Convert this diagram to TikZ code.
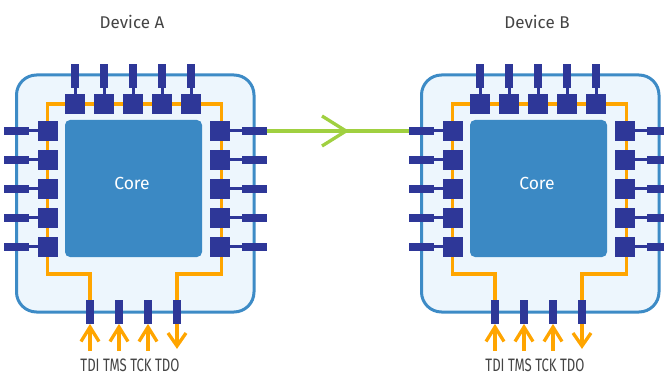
\documentclass[tikz,border=0pt]{standalone}
\usepackage{fontspec}
\setmainfont{Fira Sans}
\newfontfamily\narrowfont[FakeStretch=0.73]{Fira Sans}
\definecolor{framecol}{HTML}{3D8BC6}
\definecolor{panelcol}{HTML}{EDF6FD}
\definecolor{corecol}{HTML}{3B89C4}
\definecolor{padcol}{HTML}{2E3798}
\definecolor{tracecol}{HTML}{FFA500}
\definecolor{wirecol}{HTML}{A0D040}
\definecolor{textcol}{HTML}{444444}
\tikzset{
  framebox/.style={draw=framecol,line width=3pt,fill=panelcol,rounded corners=20pt},
  corebox/.style={fill=corecol,rounded corners=5pt},
  padbox/.style={fill=padcol,inner sep=0pt,minimum width=20pt,minimum height=20pt},
  vpin/.style={fill=padcol,inner sep=0pt,minimum width=8pt,minimum height=24pt},
  hpin/.style={fill=padcol,inner sep=0pt,minimum width=25pt,minimum height=8pt},
  stub/.style={draw=padcol,line width=3pt},
  trace/.style={draw=tracecol,line width=3.3pt},
  wire/.style={draw=wirecol,line width=3.3pt},
  titlelabel/.style={text=textcol,font=\fontsize{17}{17}\selectfont,inner sep=0pt},
  corelabel/.style={text=white,font=\fontsize{17.5}{17.5}\selectfont,inner sep=0pt},
  pinlabel/.style={text=textcol,font=\fontsize{18}{18}\narrowfont,inner sep=0pt},
}
\newcommand{\chipdevice}[3]{%
\begin{scope}[shift={(#2,0)}]
  \node[titlelabel] (#1-title) at (132,22) {#3};
  \path[framebox] (16.5,75) rectangle (254,312);
  \coordinate (#1-c1) at (47.5,274);
  \coordinate (#1-c2) at (47.5,104);
  \coordinate (#1-c3) at (221.5,104);
  \coordinate (#1-c4) at (221.5,274);
  \foreach \i/\xx in {1/90,2/119,3/148,4/177}
    \node[vpin] (#1-b\i) at (\xx,312) {};
  \draw[trace] (#1-b1.north) |- (#1-c1) -- (#1-c2) -- (#1-c3) -- (#1-c4) -| (#1-b4.north);
  \path[corebox] (65,120) rectangle (202,257);
  \node[corelabel] (#1-core) at (132,183.5) {Core};
  \foreach \i/\xx in {1/75,2/104,3/133,4/162,5/191}{
    \node[padbox] (#1-t\i) at (\xx,104) {};
    \node[vpin] (#1-tp\i) at (\xx,76) {};
    \draw[stub] (#1-tp\i.south) -- (#1-t\i.north);
  }
  \foreach \i/\yy in {1/131,2/160,3/189,4/218,5/247}{
    \node[padbox] (#1-l\i) at (48,\yy) {};
    \node[hpin] (#1-lp\i) at (16.5,\yy) {};
    \draw[stub] (#1-lp\i.east) -- (#1-l\i.west);
    \node[padbox] (#1-r\i) at (220,\yy) {};
    \node[hpin] (#1-rp\i) at (254.5,\yy) {};
    \draw[stub] (#1-r\i.east) -- (#1-rp\i.west);
  }
  \foreach \i/\xx in {1/90,2/119,3/148}{
    \coordinate (#1-a\i) at (\xx,351);
    \coordinate (#1-h\i) at (\xx,327);
    \draw[trace] (#1-a\i) -- (#1-h\i);
    \draw[trace] (\xx-9,341.5) -- (#1-h\i) -- (\xx+9,341.5);
  }
  \coordinate (#1-a4) at (177,346);
  \draw[trace] (#1-b4.south) -- (#1-a4);
  \draw[trace] (168,333) -- (#1-a4) -- (186,333);
  \node[pinlabel] (#1-pins) at (130,365) {TDI TMS TCK TDO};
\end{scope}}
\begin{document}
\begin{tikzpicture}[x=1pt,y=-1pt]
\useasboundingbox (0,0) rectangle (664,374);
\chipdevice{A}{0}{Device A}
\chipdevice{B}{405}{Device B}
\coordinate (tip) at (346,131);
\draw[wire] (A-rp1.east) -- (B-lp1.west);
\draw[wire] (322,116) -- (tip) -- (322,146);
\end{tikzpicture}
\end{document}
